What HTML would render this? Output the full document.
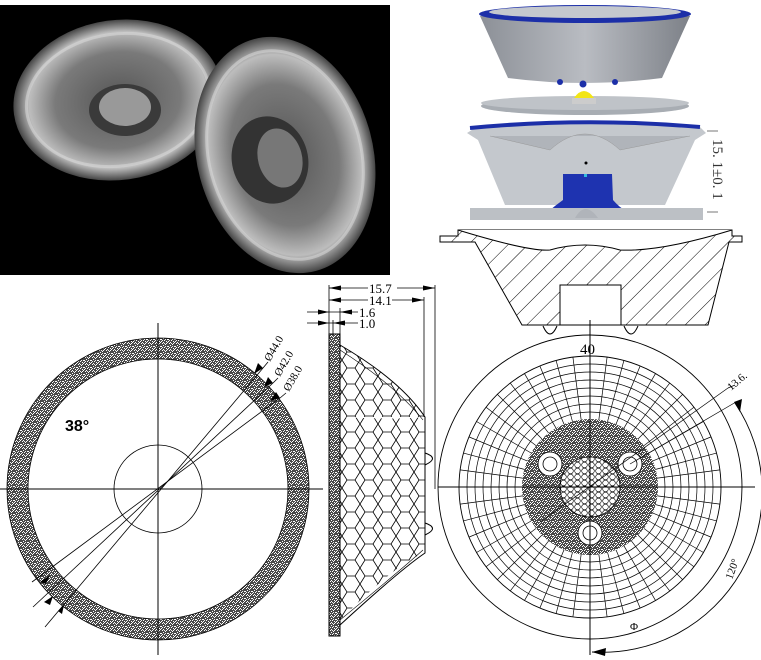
<!DOCTYPE html>
<html><head><meta charset="utf-8"><style>
html,body{margin:0;padding:0;background:#fff;}
svg{display:block;}
text{font-family:"Liberation Serif",serif;}
</style></head><body>
<svg width="761" height="660" viewBox="0 0 761 660" xmlns="http://www.w3.org/2000/svg">
<defs>
<pattern id="st" width="7" height="7" patternUnits="userSpaceOnUse">
<rect width="7" height="7" fill="#4a4a4a"/>
<rect x="1" y="0" width="1" height="1" fill="#fff"/><rect x="4" y="1" width="1" height="1" fill="#fff"/>
<rect x="0" y="3" width="1" height="1" fill="#fff"/><rect x="3" y="4" width="1" height="1" fill="#fff"/>
<rect x="6" y="3" width="1" height="1" fill="#fff"/><rect x="2" y="6" width="1" height="1" fill="#fff"/>
<rect x="5" y="5" width="1" height="1" fill="#fff"/><rect x="5" y="0" width="1" height="1" fill="#fff"/>
<rect x="2" y="2" width="1" height="1" fill="#fff"/><rect x="6" y="6" width="1" height="1" fill="#fff"/>
<rect x="0" y="5" width="1" height="1" fill="#fff"/><rect x="4" y="3" width="1" height="1" fill="#eee"/>
<rect x="3" y="0" width="1" height="1" fill="#eee"/><rect x="1" y="4" width="1" height="1" fill="#eee"/>
</pattern>
<pattern id="hatch" width="14" height="14" patternUnits="userSpaceOnUse" patternTransform="rotate(45)">
<line x1="0" y1="0" x2="0" y2="14" stroke="#000" stroke-width="1"/>
</pattern>
<pattern id="hex" width="18" height="16" patternUnits="userSpaceOnUse">
<path d="M0 8 L5 0 L13 0 L18 8 L13 16 L5 16 Z" fill="none" stroke="#000" stroke-width="0.8"/>
</pattern>
<pattern id="hc" width="7" height="6" patternUnits="userSpaceOnUse">
<circle cx="3.5" cy="3" r="2.8" fill="none" stroke="#000" stroke-width="0.6"/>
</pattern>
<radialGradient id="lens" cx="50%" cy="50%" r="50%">
<stop offset="0" stop-color="#555"/><stop offset="0.6" stop-color="#7a7a7a"/><stop offset="0.85" stop-color="#bdbdbd"/><stop offset="1" stop-color="#444"/>
</radialGradient>
<linearGradient id="bowl" x1="0" x2="1" y1="0" y2="0">
<stop offset="0" stop-color="#8c9097"/><stop offset="0.5" stop-color="#b9bcc2"/><stop offset="1" stop-color="#7d8188"/>
</linearGradient>
</defs>

<!-- Photo -->
<rect x="0" y="5" width="390" height="270" fill="#000"/>
<ellipse cx="118" cy="100" rx="105" ry="80" transform="rotate(-8 118 100)" fill="url(#lens)"/>
<ellipse cx="118" cy="100" rx="92" ry="66" transform="rotate(-8 118 100)" fill="none" stroke="#ddd" stroke-width="3" opacity="0.5"/>
<ellipse cx="125" cy="110" rx="36" ry="26" fill="#3a3a3a"/>
<ellipse cx="125" cy="107" rx="26" ry="19" fill="#999"/>
<ellipse cx="285" cy="155" rx="88" ry="120" transform="rotate(-15 285 155)" fill="url(#lens)"/>
<ellipse cx="285" cy="155" rx="76" ry="106" transform="rotate(-15 285 155)" fill="none" stroke="#ddd" stroke-width="3" opacity="0.5"/>
<ellipse cx="270" cy="160" rx="38" ry="44" transform="rotate(-15 270 160)" fill="#333"/>
<ellipse cx="280" cy="158" rx="22" ry="30" transform="rotate(-15 280 158)" fill="#777"/>

<!-- 3D render -->
<path d="M480 16 L508 78 Q585 88 662 78 L690 16 Z" fill="url(#bowl)"/>
<ellipse cx="585" cy="14" rx="106" ry="9" fill="#1c2fa8"/>
<ellipse cx="585" cy="12" rx="96" ry="6" fill="#c4c8ce"/>
<circle cx="560" cy="82" r="3" fill="#1c2fa8"/><circle cx="583" cy="84" r="3.5" fill="#1c2fa8"/><circle cx="615" cy="82" r="3" fill="#1c2fa8"/>
<ellipse cx="585" cy="106" rx="104" ry="9" fill="#a8adb3"/>
<ellipse cx="585" cy="103" rx="104" ry="7" fill="#bfc3c8"/>
<rect x="572" y="98" width="24" height="6" fill="#ccc"/>
<path d="M574 98 Q584 84 594 98 Z" fill="#f2e516"/>
<path d="M467 133 L475 128 Q585 118 700 127 L706 133 L695 140 L665 205 L505 205 L478 140 Z" fill="#c4c8cd"/>
<path d="M470 128 Q585 117 700 127" fill="none" stroke="#1c2fa8" stroke-width="4"/>
<path d="M490 136 L550 150 Q585 118 620 150 L690 136" fill="#b0b4ba" stroke="#999" stroke-width="0.5"/>
<path d="M563 174 L612 174 L613 200 Q620 208 625 210 L550 210 Q556 205 563 200 Z" fill="#1e33b0"/>
<ellipse cx="585" cy="214" rx="115" ry="6" fill="#b5b9bf"/>
<rect x="470" y="208" width="233" height="12" fill="#bcc0c5"/>
<path d="M575 218 Q585 200 598 218 Z" fill="#b0b4ba"/>
<circle cx="586" cy="163" r="1.5" fill="#000"/><rect x="584" y="174" width="3" height="3" fill="#3bd"/>
<line x1="707" y1="131" x2="718" y2="131" stroke="#555" stroke-width="0.8"/>
<line x1="707" y1="212" x2="718" y2="212" stroke="#555" stroke-width="0.8"/>
<text x="0" y="0" font-size="15" fill="#333" transform="translate(713 139) rotate(90)">15. 1±0. 1</text>

<!-- cross-section -->
<path d="M440 236 L458 236 L458 230 L732 230 L732 236 L742 236 L742 242 L729 242 L708 325 L522 325 L475 242 L440 242 Z" fill="url(#hatch)" stroke="#000" stroke-width="1"/>
<path d="M458 230 Q530 252 550 250 Q585 240 620 250 Q660 252 732 230" fill="#fff" stroke="#000"/>
<rect x="560" y="285" width="61" height="40" fill="#fff" stroke="#000"/>
<path d="M543 326 Q550 342 557 326" fill="none" stroke="#000"/><path d="M624 326 Q631 342 638 326" fill="none" stroke="#000"/>
<line x1="590" y1="320" x2="590" y2="340" stroke="#000"/>

<!-- left circle drawing -->
<g stroke="#000" fill="none">
<circle cx="158" cy="489" r="140.5" stroke="url(#st)" stroke-width="21"/>
<circle cx="158" cy="489" r="151" stroke-width="0.8"/>
<circle cx="158" cy="489" r="130" stroke-width="0.8"/>
<circle cx="158" cy="489" r="44" stroke-width="0.8"/>
<line x1="0" y1="489" x2="323" y2="489" stroke-width="1"/>
<line x1="158" y1="323" x2="158" y2="655" stroke-width="1"/>
<line x1="45" y1="627" x2="263" y2="368" stroke-width="0.8"/>
<line x1="33" y1="607" x2="273" y2="383" stroke-width="0.8"/>
<line x1="32" y1="582" x2="280" y2="398" stroke-width="0.8"/>
<line x1="263" y1="368" x2="268" y2="362" stroke-width="0.8"/>
<line x1="273" y1="383" x2="278" y2="378" stroke-width="0.8"/>
<line x1="280" y1="398" x2="286" y2="393" stroke-width="0.8"/>
</g>
<path d="M263 368 L254 374 L258 363 Z M273 383 L264 387 L268 377 Z M280 398 L270 401 L276 392 Z M40 582 L50 575 L46 584 Z M44 602 L53 596 L50 605 Z M58 611 L64 605 L62 614 Z" fill="#000"/>
<text x="0" y="0" font-size="11" transform="translate(270 362) rotate(-60)">Ø44.0</text>
<text x="0" y="0" font-size="11" transform="translate(280 377) rotate(-60)">Ø42.0</text>
<text x="0" y="0" font-size="11" transform="translate(289 392) rotate(-60)">Ø38.0</text>
<text x="65" y="431" font-size="16" font-weight="bold" style="font-family:'Liberation Sans',sans-serif">38°</text>

<!-- side view -->
<path d="M340 417 Q400 420 425 417 L425 553 Q400 560 340 620 L340 345 Q400 380 425 417 Z" fill="url(#hex)"/>
<path d="M340 345 Q400 380 425 417 L425 553 Q400 570 340 625" fill="none" stroke="#000"/>
<path d="M340 350 Q395 385 423 420 M340 620 Q395 575 423 550" fill="none" stroke="#000" stroke-width="0.6"/>
<rect x="329" y="334" width="11" height="302" fill="url(#st)" stroke="#000"/>
<path d="M425 453 Q440 458 425 465 M425 523 Q440 528 425 535" fill="none" stroke="#000"/>
<g stroke="#000" stroke-width="0.8">
<line x1="329" y1="285" x2="329" y2="340"/><line x1="435" y1="285" x2="435" y2="489"/>
<line x1="424" y1="297" x2="424" y2="417"/><line x1="340" y1="308" x2="340" y2="334"/><line x1="333" y1="320" x2="333" y2="334"/>
<line x1="329" y1="288" x2="368" y2="288"/><line x1="397" y1="288" x2="435" y2="288"/>
<line x1="329" y1="300" x2="368" y2="300"/><line x1="392" y1="300" x2="424" y2="300"/>
<line x1="307" y1="312" x2="358" y2="312"/><line x1="307" y1="323" x2="358" y2="323"/>
</g>
<path d="M329 288 L341 285.5 L341 290.5 Z M435 288 L423 285.5 L423 290.5 Z M329 300 L341 297.5 L341 302.5 Z M424 300 L412 297.5 L412 302.5 Z M329 312 L318 309.5 L318 314.5 Z M340 312 L352 309.5 L352 314.5Z M329 323 L318 320.5 L318 325.5 Z M333 323 L345 320.5 L345 325.5 Z" fill="#000"/>
<text x="369" y="293" font-size="13">15.7</text>
<text x="369" y="305" font-size="13">14.1</text>
<text x="359" y="317" font-size="13">1.6</text>
<text x="359" y="328" font-size="13">1.0</text>

<!-- right circle -->
<g stroke="#000" fill="none">
<circle cx="590" cy="487" r="152" stroke-width="0.9"/>
<circle cx="590" cy="487" r="131" stroke-width="0.9"/>
<g stroke-width="0.7">
<circle cx="590" cy="487" r="123"/><circle cx="590" cy="487" r="115"/><circle cx="590" cy="487" r="107"/><circle cx="590" cy="487" r="99"/><circle cx="590" cy="487" r="91"/><circle cx="590" cy="487" r="83"/><circle cx="590" cy="487" r="75"/>
</g>
<g stroke-width="0.7" transform="translate(590 487)" id="rad">
<line x1="68" y1="0" x2="131" y2="0" transform="rotate(0)"/><line x1="68" y1="0" x2="131" y2="0" transform="rotate(7.5)"/><line x1="68" y1="0" x2="131" y2="0" transform="rotate(15)"/><line x1="68" y1="0" x2="131" y2="0" transform="rotate(22.5)"/><line x1="68" y1="0" x2="131" y2="0" transform="rotate(30)"/><line x1="68" y1="0" x2="131" y2="0" transform="rotate(37.5)"/><line x1="68" y1="0" x2="131" y2="0" transform="rotate(45)"/><line x1="68" y1="0" x2="131" y2="0" transform="rotate(52.5)"/><line x1="68" y1="0" x2="131" y2="0" transform="rotate(60)"/><line x1="68" y1="0" x2="131" y2="0" transform="rotate(67.5)"/><line x1="68" y1="0" x2="131" y2="0" transform="rotate(75)"/><line x1="68" y1="0" x2="131" y2="0" transform="rotate(82.5)"/>
</g>
<use href="#rad" transform="rotate(90 590 487)"/>
<use href="#rad" transform="rotate(180 590 487)"/>
<use href="#rad" transform="rotate(270 590 487)"/>
<circle cx="590" cy="487" r="49" stroke="url(#st)" stroke-width="38"/>
<circle cx="590" cy="487" r="30" fill="url(#hc)" stroke-width="0.8"/>
<circle cx="550" cy="464" r="12" fill="#fff" stroke-width="0.8"/><circle cx="550" cy="464" r="7" stroke-width="0.8"/>
<circle cx="630" cy="464" r="12" fill="#fff" stroke-width="0.8"/><circle cx="630" cy="464" r="7" stroke-width="0.8"/>
<circle cx="590" cy="533" r="12" fill="#fff" stroke-width="0.8"/><circle cx="590" cy="533" r="7" stroke-width="0.8"/>
<line x1="438" y1="487" x2="755" y2="487" stroke-width="1"/>
<line x1="590" y1="330" x2="590" y2="655" stroke-width="1"/>
<line x1="540" y1="522" x2="728" y2="388" stroke-width="0.7"/>
<line x1="630" y1="464" x2="736" y2="402" stroke-width="0.7"/>
<line x1="728" y1="388" x2="735" y2="385" stroke-width="0.7"/>
<path d="M735 403 A160 160 0 0 1 592 652" stroke-width="0.9"/>
</g>
<path d="M734 402 L740 412 L742 399 Z M592 652 L606 648 L605 656 Z" fill="#000"/>
<text x="580" y="354" font-size="15">40</text>
<text x="0" y="0" font-size="11" transform="translate(731 391) rotate(-40)">13.6.</text>
<text x="0" y="0" font-size="11" transform="translate(732 580) rotate(-70)">120°</text>
<text x="630" y="630" font-size="11">Φ</text>
</svg>
</body></html>
